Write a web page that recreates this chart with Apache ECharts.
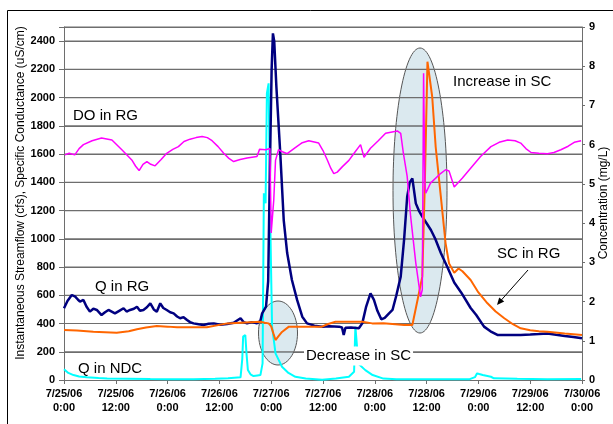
<!DOCTYPE html>
<html>
<head>
<meta charset="utf-8">
<script src="https://cdn.jsdelivr.net/npm/echarts@6/dist/echarts.min.js"></script>
<style>
  html, body { margin: 0; padding: 0; background: #fff; }
  #chart { width: 613px; height: 424px; }
</style>
</head>
<body>
<div id="chart"></div>
<script>
// hours since 7/25/06 0:00, value
var xTickLabels = ['7/25/06\n0:00', '7/25/06\n12:00', '7/26/06\n0:00', '7/26/06\n12:00', '7/27/06\n0:00',
  '7/27/06\n12:00', '7/28/06\n0:00', '7/28/06\n12:00', '7/29/06\n0:00', '7/29/06\n12:00', '7/30/06\n0:00'];

// horizontal gridlines on the left axis
var gridValues = [200, 400, 600, 800, 1000, 1200, 1400, 1600, 1800, 2000, 2200, 2400, 2500];

// Q in NDC (cfs)
var qNDC = [[0,76],[1,50],[2.2,35],[3.5,25],[5.3,19],[8,14],[10,11],[14.6,9],[20,7],[25,6],[30,5],[35,8],[38,12],
  [40.9,19],[41.3,150],[41.5,307],[42.0,319],[42.3,180],[42.6,71],[43.2,40],[43.9,28],[44.8,32],[45.5,35],[46.0,118],
  [46.3,1322],[46.7,1252],[47.0,2030],[47.4,2101],[47.8,1086],[48.2,378],[49.0,189],[50.5,94],[52,50],[53.6,23],
  [56,10],[59.8,2],[63,10],[66.0,23],[67.2,59],[67.5,378],[67.9,230],[68.4,110],[69.8,70],[71.5,35],[74,10],[77,5],
  [80,6],[85,5],[90,5],[94,6],[95.2,20],[95.7,47],[96.2,42],[97,35],[98.9,23],[99.6,12],[105,8],[112,6],[119.8,7]];

// Q in RG (cfs)
var qRG = [[0,508],[0.8,560],[1.8,602],[2.6,590],[3.2,570],[3.7,555],[4.5,567],[5.2,520],[6.0,484],[6.8,505],[7.6,496],
  [8.7,460],[9.5,480],[10.3,496],[11.8,472],[12.8,490],[13.8,508],[14.5,485],[15.3,496],[16.2,505],[16.9,519],[17.6,490],
  [18.4,496],[19.2,515],[20.0,543],[20.8,500],[21.5,484],[22.3,543],[23.0,510],[23.8,496],[24.6,480],[25.4,472],
  [26.2,450],[26.9,437],[27.7,445],[28.5,425],[29.2,410],[30.0,401],[31.2,395],[32.3,390],[33.5,398],[34.7,401],
  [36.2,392],[37.8,396],[39.3,405],[40.9,437],[41.6,410],[42.4,401],[43.5,410],[44.7,401],[45.5,420],[45.9,472],
  [46.8,520],[47.3,700],[47.7,1500],[48.1,2200],[48.4,2455],[48.7,2400],[49.2,2077],[50.1,1607],[50.9,1133],
  [51.7,899],[52.8,708],[54.0,567],[55.2,448],[56.3,401],[58,385],[59.8,378],[61.5,380],[63.7,378],[64.4,372],
  [64.8,319],[65.2,370],[66.5,372],[68.3,366],[69.1,401],[70.0,520],[71.0,614],[71.8,567],[72.6,490],[73.5,430],
  [74.3,440],[75.3,472],[76.1,496],[77.0,600],[78.0,732],[78.8,1000],[79.5,1298],[80.1,1400],[80.7,1428],[81.5,1251],
  [82.2,1200],[83.0,1157],[84.0,1110],[85.0,1062],[86.0,1000],[87.3,900],[88.8,800],[90.4,690],[92,620],[94.2,510],
  [95.5,460],[97.3,378],[98.8,345],[100.4,319],[103,318],[105.8,319],[108,322],[110,325],[112,330],[114,320],
  [116,312],[118,305],[120,295]];

// SC in RG (uS/cm)
var scRG = [[0,354],[3,350],[6.8,342],[12.2,335],[15,345],[16.9,359],[19,372],[21.5,382],[24,378],[26.2,373],
  [33.1,373],[37.8,401],[42,408],[45.5,413],[46.5,405],[47.4,401],[48.0,380],[48.5,330],[49.0,283],[49.7,310],
  [50.5,340],[52.1,378],[55.9,378],[59.8,378],[61,395],[62.9,413],[66,413],[69.1,413],[71.4,401],[74,402],[78.8,390],
  [80.7,390],[81.9,567],[83.0,732],[83.6,1400],[84.2,2254],[85.3,2006],[86.1,1652],[87.3,1298],[88.4,968],[89.2,826],
  [90.4,760],[91.4,790],[92.3,770],[94.2,708],[96,620],[98.1,543],[100,485],[102,437],[104,395],[105.8,366],
  [108,352],[110,345],[112,342],[116,330],[120,319]];

// DO in RG (mg/L)
var doRG = [[0.2,5.74],[1.2,5.78],[2.5,5.74],[3.5,5.9],[4.5,6.0],[6.5,6.1],[8.7,6.17],[11.1,6.12],[13.4,5.87],
  [15.7,5.61],[16.6,5.45],[17.4,5.34],[18.3,5.5],[19.2,5.57],[20.1,5.5],[21.1,5.46],[22.5,5.62],[23.8,5.78],
  [25.2,5.88],[26.5,5.95],[27.8,6.08],[29.2,6.14],[30.6,6.18],[32.0,6.21],[33.2,6.18],[34.3,6.10],[35.7,5.95],
  [37.0,5.78],[38.2,5.65],[39.3,5.57],[40.8,5.62],[42.4,5.66],[44.7,5.70],[45.3,5.88],[46.7,5.87],[47.0,5.91],
  [47.7,5.9],[48.0,3.75],[48.6,4.6],[49.0,5.6],[49.7,5.87],[50.6,5.82],[51.7,5.77],[53.5,5.92],[55.2,6.05],
  [56.7,6.10],[59.0,6.04],[60.0,5.85],[61.0,5.61],[61.8,5.4],[62.5,5.26],[63.3,5.3],[64.5,5.44],[66.0,5.6],
  [67.2,5.78],[68.7,6.0],[69.5,5.68],[71.0,5.91],[72.8,6.1],[74.5,6.29],[77.2,6.35],[78.0,6.29],[78.6,5.8],
  [79.5,5.19],[80.3,4.17],[81.5,2.98],[82.6,2.12],[83.0,2.3],[83.3,7.82],[83.6,5.0],[83.8,4.76],[84.9,5.02],
  [87.3,5.27],[88.4,5.36],[89.2,5.33],[90.4,4.92],[92.3,5.15],[94.2,5.40],[96.5,5.7],[98.9,5.95],[100.8,6.06],
  [102.8,6.12],[104.5,6.1],[105.8,6.04],[107,5.9],[108.2,5.80],[110,5.78],[112.0,5.77],[113.5,5.8],[115.1,5.87],
  [116.8,5.96],[118.2,6.06],[119.8,6.1]];

var myChart = echarts.init(document.getElementById('chart'));

var fontFam = '"Liberation Sans", Arial, sans-serif';
var noteFont = '15px ' + fontFam;
var gridGrey = '#6e6e6e';

var option = {
  animation: false,
  grid: { left: 64, right: 31, top: 27, bottom: 44 },
  xAxis: {
    type: 'value', min: 0, max: 120, interval: 12,
    axisLine: { show: true, onZero: false, lineStyle: { color: gridGrey } },
    axisTick: { show: true, length: 4, lineStyle: { color: gridGrey } },
    splitLine: { show: false },
    axisLabel: { color: '#000', fontWeight: 'bold', fontSize: 11, lineHeight: 14, margin: 7,
      formatter: function (v) { return xTickLabels[Math.round(v / 12)]; } }
  },
  yAxis: [
    { type: 'value', min: 0, max: 2500, interval: 200,
      axisLine: { show: true, lineStyle: { color: gridGrey } },
      axisTick: { show: true, length: 5, lineStyle: { color: gridGrey } },
      splitLine: { show: true, lineStyle: { color: gridGrey, width: 1 } },
      axisLabel: { color: '#000', fontWeight: 'bold', fontSize: 11, margin: 9,
        formatter: function (v) { return v > 2400 ? '' : String(v); } } },
    { type: 'value', min: 0, max: 9, interval: 1, position: 'right',
      axisLine: { show: true, lineStyle: { color: gridGrey } },
      axisTick: { show: true, length: 3, lineStyle: { color: gridGrey } },
      splitLine: { show: false },
      axisLabel: { color: '#000', fontWeight: 'bold', fontSize: 11, margin: 7 } }
  ],
  series: [
    // gridlines drawn through the axis scale
    { name: 'grid', type: 'custom', z: 2, silent: true,
      data: gridValues.map(function (v) { return [v]; }),
      encode: { y: 0 },
      renderItem: function (params, api) {
        var v = api.value(0);
        var p1 = api.coord([0, v]);
        var p2 = api.coord([120, v]);
        return { type: 'line', shape: { x1: p1[0], y1: p1[1], x2: p2[0], y2: p2[1] },
          style: { stroke: gridGrey, lineWidth: 1.2 } };
      } },
    { name: 'Q in NDC', type: 'line', data: qNDC, showSymbol: false, z: 3, lineStyle: { color: '#00FFFF', width: 2 } },
    { name: 'Q in RG', type: 'line', data: qRG, showSymbol: false, z: 4, lineStyle: { color: '#000080', width: 2.5 } },
    { name: 'SC in RG', type: 'line', data: scRG, showSymbol: false, z: 5, lineStyle: { color: '#FF6600', width: 2 } },
    { name: 'DO in RG', type: 'line', yAxisIndex: 1, data: doRG, showSymbol: false, z: 6, lineStyle: { color: '#FF00FF', width: 1.5 } }
  ],
  graphic: [
    // outer frame
    { type: 'line', z: 10, shape: { x1: 7.5, y1: 10.5, x2: 7.5, y2: 424 }, style: { stroke: '#000', lineWidth: 1 } },
    { type: 'line', z: 10, shape: { x1: 7.5, y1: 10.5, x2: 613, y2: 10.5 }, style: { stroke: '#000', lineWidth: 1 } },
    // ellipses
    { type: 'ellipse', z: 2, shape: { cx: 278, cy: 333, rx: 19.5, ry: 32 },
      style: { fill: 'rgba(190,215,225,0.55)', stroke: '#555', lineWidth: 1 } },
    { type: 'ellipse', z: 2, shape: { cx: 420, cy: 190.5, rx: 27, ry: 142.5 },
      style: { fill: 'rgba(190,215,225,0.55)', stroke: '#555', lineWidth: 1 } },
    // axis names
    { type: 'text', z: 10, x: 21, y: 193, rotation: Math.PI / 2,
      style: { text: 'Instantaneous Streamflow (cfs), Specific Conductance (uS/cm)', font: '12px ' + fontFam,
        fill: '#000', align: 'center', verticalAlign: 'middle' } },
    { type: 'text', z: 10, x: 604, y: 203, rotation: Math.PI / 2,
      style: { text: 'Concentration (mg/L)', font: '12px ' + fontFam, fill: '#000', align: 'center', verticalAlign: 'middle' } },
    // annotations
    { type: 'text', z: 10, x: 73, y: 116, style: { text: 'DO in RG', font: noteFont, fill: '#000', verticalAlign: 'middle' } },
    { type: 'text', z: 10, x: 95, y: 287, style: { text: 'Q in RG', font: noteFont, fill: '#000', verticalAlign: 'middle' } },
    { type: 'text', z: 10, x: 78, y: 369, style: { text: 'Q in NDC', font: noteFont, fill: '#000', verticalAlign: 'middle' } },
    { type: 'text', z: 10, x: 304, y: 356, style: { text: 'Decrease in SC', font: noteFont, fill: '#000', verticalAlign: 'middle',
        backgroundColor: '#fff', padding: [2, 2] } },
    { type: 'text', z: 10, x: 453, y: 82, style: { text: 'Increase in SC', font: noteFont, fill: '#000', verticalAlign: 'middle' } },
    { type: 'text', z: 10, x: 497, y: 254, style: { text: 'SC in RG', font: noteFont, fill: '#000', verticalAlign: 'middle' } },
    // arrow to SC in RG
    { type: 'line', z: 10, shape: { x1: 528, y1: 270, x2: 500, y2: 301.5 }, style: { stroke: '#000', lineWidth: 1 } },
    { type: 'polygon', z: 10, shape: { points: [[497, 305], [504.2, 301.6], [499.2, 297.4]] }, style: { fill: '#000' } }
  ]
};

myChart.setOption(option);
</script>
</body>
</html>
